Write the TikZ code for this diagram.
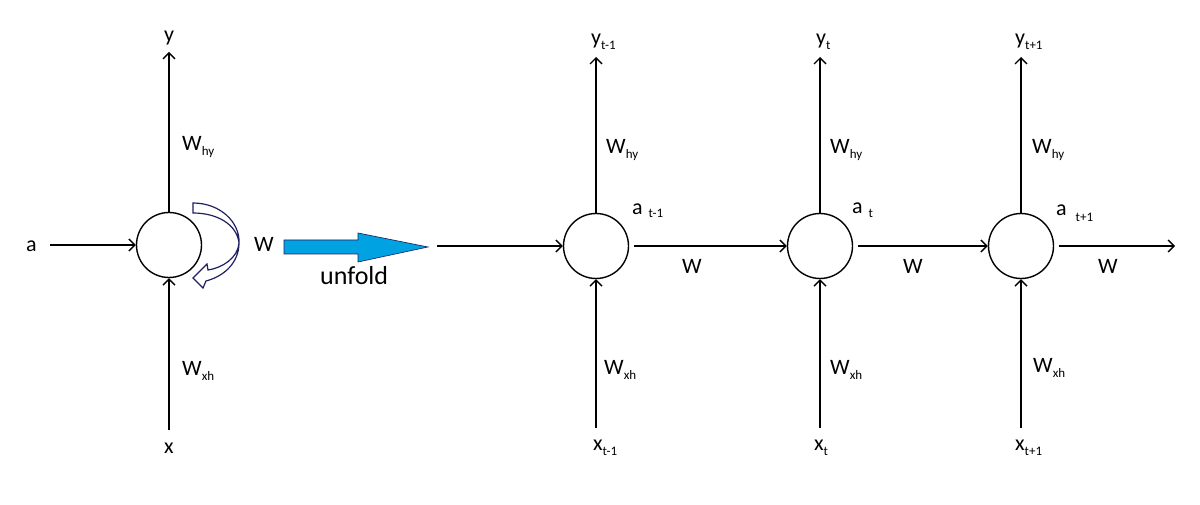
\documentclass[tikz,border=0pt]{standalone}
\usepackage{fontspec}
\setmainfont{Carlito}
\usetikzlibrary{arrows.meta}
\newcommand\lsub[2][-5pt]{\raisebox{#1}{\fontsize{13}{14}\selectfont #2}}
\definecolor{navy}{RGB}{32,32,96}
\definecolor{unfoldblue}{RGB}{0,162,226}
\begin{document}
\begin{tikzpicture}[x=1pt,y=-1pt,
  arr/.style={line width=1.4pt,-{Straight Barb[length=6pt,width=12pt,line width=1.4pt]}},
  cell/.style={circle,draw,line width=1.4pt,minimum size=65pt,inner sep=0pt},
  lab/.style={inner sep=0pt,anchor=base west,font=\fontsize{22}{26}\selectfont}]
\fill[white] (0,0) rectangle (1200,505);
\path[use as bounding box] (0,0) rectangle (1200,505);

% ---------- folded cell ----------
\node[cell] (c0) at (169,245) {};
\coordinate (y0e) at (169,52);
\coordinate (a0s) at (50,245);
\coordinate (x0s) at (169,430);
\draw[arr] (c0.north) -- (y0e);
\draw[arr] (a0s) -- (c0.west);
\draw[arr] (x0s) -- (c0.south);
\node[lab] (ly0) at (164,42) {y};
\node[lab] (lwhy0) at (182,151) {W\lsub{hy}};
\node[lab] (la0) at (26,252) {a};
\node[lab] (lw0) at (254,252) {W};
\node[lab] (lwxh0) at (182,375) {W\lsub{xh}};
\node[lab] (lx0) at (164,453) {x};

% curved recurrent arrow
\draw[navy,line width=1.2pt,fill=white,line join=miter]
  (193,203) .. controls (220,203) and (240,222) .. (239,243)
  .. controls (238,258) and (222,268) .. (208,270)
  -- (207,264) -- (193,278) -- (203,288) -- (206,281)
  .. controls (225,276) and (239,262) .. (239,243)
  .. controls (237,225) and (218,213) .. (193,213) -- cycle;

% unfold arrow
\draw[navy,line width=0.6pt,fill=unfoldblue]
  (284,240) -- (358,240) -- (358,233) -- (428,247) -- (358,262) -- (358,254) -- (284,254) -- cycle;
\node[inner sep=0pt,anchor=base west,font=\fontsize{26}{30}\selectfont] (lunfold) at (320,285) {unfold};

% ---------- unfolded cells ----------
\node[cell] (c1) at (596,246) {};
\node[cell] (c2) at (820,246) {};
\node[cell] (c3) at (1021,246) {};
\coordinate (ins) at (437,246);
\coordinate (oute) at (1175,246);
\coordinate (y1e) at (596,57);
\coordinate (y2e) at (820,57);
\coordinate (y3e) at (1021,57);
\coordinate (x1s) at (596,428);
\coordinate (x2s) at (820,428);
\coordinate (x3s) at (1021,428);

\draw[arr] (ins) -- (c1.west);
\draw[arr,shorten <=5pt] (c1.east) -- (c2.west);
\draw[arr,shorten <=5pt] (c2.east) -- (c3.west);
\draw[arr,shorten <=5pt] (c3.east) -- (oute);
\draw[arr] (c1.north) -- (y1e);
\draw[arr] (c2.north) -- (y2e);
\draw[arr] (c3.north) -- (y3e);
\draw[arr] (x1s) -- (c1.south);
\draw[arr] (x2s) -- (c2.south);
\draw[arr] (x3s) -- (c3.south);

% labels t-1
\node[lab] (ly1) at (591,45) {y\lsub{t-1}};
\node[lab] (lwhy1) at (606,154) {W\lsub{hy}};
\node[lab] (la1) at (632,215) {a\hspace{6pt}\lsub[-2pt]{t-1}};
\node[lab] (lw1) at (682,274) {W};
\node[lab] (lwxh1) at (604,374) {W\lsub{xh}};
\node[lab] (lx1) at (593,450) {x\lsub{t-1}};
% labels t
\node[lab] (ly2) at (816,45) {y\lsub{t}};
\node[lab] (lwhy2) at (830,154) {W\lsub{hy}};
\node[lab] (la2) at (852,214) {a\hspace{6pt}\lsub[-4pt]{t}};
\node[lab] (lw2) at (903,274) {W};
\node[lab] (lwxh2) at (830,374) {W\lsub{xh}};
\node[lab] (lx2) at (814,450) {x\lsub{t}};
% labels t+1
\node[lab] (ly3) at (1015,45) {y\lsub{t+1}};
\node[lab] (lwhy3) at (1032,154) {W\lsub{hy}};
\node[lab] (la3) at (1056,216) {a\hspace{9pt}\lsub[-6pt]{t+1}};
\node[lab] (lw3) at (1098,274) {W};
\node[lab] (lwxh3) at (1033,372) {W\lsub{xh}};
\node[lab] (lx3) at (1015,450) {x\lsub{t+1}};
\end{tikzpicture}
\end{document}
